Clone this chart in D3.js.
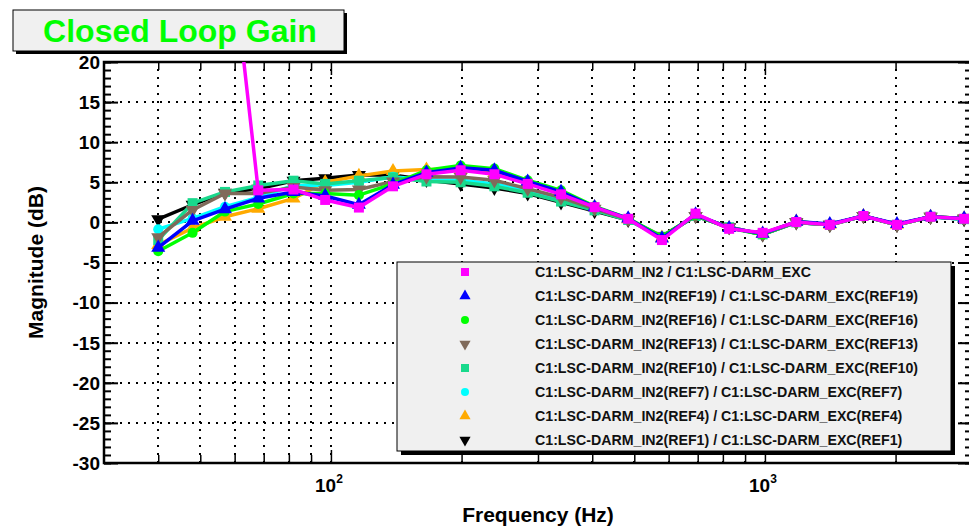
<!DOCTYPE html>
<html><head><meta charset="utf-8">
<script src="https://cdn.jsdelivr.net/npm/d3@7"></script>
<style>
html,body{margin:0;padding:0;background:#fff;}
text{font-family:"Liberation Sans",Arial,Helvetica,sans-serif;font-weight:bold;}
</style></head>
<body><svg id="c" width="969" height="527"></svg>
<script>
// ---- data ----
const freqs = [40, 48, 57, 68, 82, 97, 116, 139, 166, 199, 238, 284, 339, 405, 484, 579, 692, 827, 988, 1181, 1411, 1686, 2015, 2408, 2877];
const magCurrent = [40, 42, 41, 4.0, 4.1, 2.8, 1.85, 4.5, 6.0, 6.5, 6.0, 4.8, 3.5, 1.9, 0.45, -2.2, 1.1, -0.8, -1.3, 0.05, -0.3, 0.8, -0.3, 0.7, 0.45];
const magRef19 = [-3.15, 0.2, 1.65, 3.0, 3.8, 3.3, 2.2, 4.7, 6.2, 6.8, 6.5, 5.1, 3.8, 1.9, 0.5, -2.0, 1.0, -0.7, -1.4, 0.1, -0.2, 0.8, -0.2, 0.7, 0.5];
const magRef16 = [-3.6, -1.3, 1.35, 2.3, 3.6, 3.6, 3.4, 4.8, 6.5, 7.1, 6.7, 5.25, 4.0, 2.0, 0.5, -1.8, 0.9, -0.7, -1.5, 0.1, -0.3, 0.8, -0.3, 0.7, 0.5];
const magRef13 = [-1.85, 1.55, 3.6, 3.6, 4.4, 4.0, 4.1, 5.1, 5.7, 5.65, 5.25, 4.2, 3.1, 1.7, 0.4, -1.7, 0.8, -0.6, -1.5, 0.0, -0.3, 0.8, -0.3, 0.7, 0.5];
const magRef10 = [-2.2, 2.4, 3.8, 4.6, 5.2, 4.8, 5.2, 5.6, 5.1, 5.0, 4.5, 3.7, 2.6, 1.5, 0.3, -1.8, 0.8, -0.6, -1.5, 0.0, -0.3, 0.8, -0.3, 0.7, 0.4];
const magRef7 = [-0.85, 0.5, 1.95, 3.1, 4.6, 4.6, 5.0, 5.7, 5.3, 5.25, 4.8, 3.9, 2.8, 1.6, 0.3, -1.8, 0.8, -0.6, -1.5, 0.0, -0.3, 0.8, -0.3, 0.7, 0.4];
const magRef4 = [-2.8, -0.7, 0.7, 1.7, 3.0, 5.0, 5.8, 6.4, 6.6, 6.6, 6.2, 4.9, 3.7, 1.9, 0.4, -1.9, 0.9, -0.7, -1.4, 0.1, -0.3, 0.8, -0.3, 0.7, 0.5];
const magRef1 = [0.4, 2.2, 3.7, 4.2, 5.2, 5.5, 5.9, 5.9, 5.3, 4.8, 4.3, 3.6, 2.5, 1.4, 0.3, -1.8, 0.8, -0.6, -1.5, 0.0, -0.3, 0.8, -0.3, 0.7, 0.4];
const seriesNames = [
  "C1:LSC-DARM_IN2 / C1:LSC-DARM_EXC",
  "C1:LSC-DARM_IN2(REF19) / C1:LSC-DARM_EXC(REF19)",
  "C1:LSC-DARM_IN2(REF16) / C1:LSC-DARM_EXC(REF16)",
  "C1:LSC-DARM_IN2(REF13) / C1:LSC-DARM_EXC(REF13)",
  "C1:LSC-DARM_IN2(REF10) / C1:LSC-DARM_EXC(REF10)",
  "C1:LSC-DARM_IN2(REF7) / C1:LSC-DARM_EXC(REF7)",
  "C1:LSC-DARM_IN2(REF4) / C1:LSC-DARM_EXC(REF4)",
  "C1:LSC-DARM_IN2(REF1) / C1:LSC-DARM_EXC(REF1)"
];
const seriesValues = [magCurrent, magRef19, magRef16, magRef13, magRef10, magRef7, magRef4, magRef1];
const seriesColors = ["#ff00ff", "#0000ff", "#00ff00", "#806a5a", "#19d98c", "#00ffff", "#ffaa00", "#000000"];
const seriesMarkers = ["square", "triUp", "circle", "triDown", "square", "circle", "triUp", "triDown"];
const yTicks = [20, 15, 10, 5, 0, -5, -10, -15, -20, -25, -30];
const xMajor = [100, 1000];
const xMinor = [40, 50, 60, 70, 80, 90, 200, 300, 400, 500, 600, 700, 800, 900, 2000];
const titleText = "Closed Loop Gain";
const xTitle = "Frequency (Hz)";
const yTitle = "Magnitude (dB)";

// ---- layout ----
const L = 104, R = 972, T = 62, B = 463;
const svg = d3.select("#c");
svg.append("rect").attr("width", 969).attr("height", 527).attr("fill", "#fff");
const x = d3.scaleLog().domain([30, 3000]).range([L, R]);
const y = d3.scaleLinear().domain([-30, 20]).range([B, T]);

svg.append("clipPath").attr("id", "clip").append("rect")
  .attr("x", L).attr("y", T).attr("width", R - L).attr("height", B - T);

// grid
const grid = svg.append("g").attr("stroke", "#000").attr("stroke-width", 2).attr("stroke-dasharray", "2,6");
grid.selectAll(".vg").data(xMinor.concat(xMajor)).enter().append("line")
  .attr("x1", d => Math.round(x(d))).attr("x2", d => Math.round(x(d))).attr("y1", B).attr("y2", T);
grid.selectAll(".hg").data(yTicks.filter(d => d > -30 && d < 20)).enter().append("line")
  .attr("y1", d => Math.round(y(d))).attr("y2", d => Math.round(y(d))).attr("x1", L).attr("x2", R);

// axes with D3 (ticks inside)
const yMinorVals = d3.range(-30, 21, 1);
svg.append("g").attr("transform", `translate(${L},0)`)
  .call(d3.axisRight(y).tickValues(yMinorVals).tickSize(7).tickFormat(""))
  .call(g => g.selectAll("line").attr("stroke-width", 2))
  .call(g => g.select(".domain").remove());
svg.append("g").attr("transform", `translate(${L},0)`)
  .call(d3.axisRight(y).tickValues(yTicks).tickSize(14).tickFormat(""))
  .call(g => g.selectAll("line").attr("stroke-width", 2))
  .call(g => g.select(".domain").remove());
svg.append("g").attr("transform", `translate(${R},0)`)
  .call(d3.axisLeft(y).tickValues(yMinorVals).tickSize(7).tickFormat(""))
  .call(g => g.selectAll("line").attr("stroke-width", 2))
  .call(g => g.select(".domain").remove());
svg.append("g").attr("transform", `translate(${R},0)`)
  .call(d3.axisLeft(y).tickValues(yTicks).tickSize(14).tickFormat(""))
  .call(g => g.selectAll("line").attr("stroke-width", 2))
  .call(g => g.select(".domain").remove());
// y labels
svg.append("g").selectAll("text").data(yTicks).enter().append("text")
  .attr("x", 100).attr("y", d => y(d)).attr("dy", "0.36em").attr("text-anchor", "end")
  .attr("font-size", 19).attr("fill", "#000").text(d => d);

// x ticks
svg.append("g").attr("transform", `translate(0,${B})`)
  .call(d3.axisTop(x).tickValues(xMinor).tickSize(8).tickFormat(""))
  .call(g => g.selectAll("line").attr("stroke-width", 1.5))
  .call(g => g.select(".domain").remove());
svg.append("g").attr("transform", `translate(0,${B})`)
  .call(d3.axisTop(x).tickValues(xMajor).tickSize(13).tickFormat(""))
  .call(g => g.selectAll("line").attr("stroke-width", 1.5))
  .call(g => g.select(".domain").remove());
svg.append("g").attr("transform", `translate(0,${T})`)
  .call(d3.axisBottom(x).tickValues(xMinor).tickSize(8).tickFormat(""))
  .call(g => g.selectAll("line").attr("stroke-width", 1.5))
  .call(g => g.select(".domain").remove());
svg.append("g").attr("transform", `translate(0,${T})`)
  .call(d3.axisBottom(x).tickValues(xMajor).tickSize(13).tickFormat(""))
  .call(g => g.selectAll("line").attr("stroke-width", 1.5))
  .call(g => g.select(".domain").remove());
// x labels
const xl = svg.append("g").selectAll("text").data(xMajor).enter().append("text")
  .attr("x", d => x(d) - 2).attr("y", 492).attr("text-anchor", "middle")
  .attr("font-size", 19).attr("fill", "#000");
xl.append("tspan").text("10");
xl.append("tspan").attr("dy", -9).attr("font-size", 12).text(d => Math.round(Math.log10(d)));

// frame
svg.append("rect").attr("x", L).attr("y", T).attr("width", R - L).attr("height", B - T)
  .attr("fill", "none").attr("stroke", "#000").attr("stroke-width", 2.5);

// titles
svg.append("text").attr("x", (L + R) / 2).attr("y", 522).attr("text-anchor", "middle")
  .attr("font-size", 21).attr("fill", "#000").text(xTitle);
svg.append("text").attr("transform", `translate(43,${(T + B) / 2}) rotate(-90)`)
  .attr("text-anchor", "middle").attr("font-size", 21).attr("fill", "#000").text(yTitle);

// series
const markerPath = (kind, size) => {
  if (kind === "square") return d3.symbol().type(d3.symbolSquare).size(size)();
  if (kind === "circle") return d3.symbol().type(d3.symbolCircle).size(size * 0.8)();
  return d3.symbol().type(d3.symbolTriangle).size(size * 0.85)();
};
const line = d3.line().x((d, i) => x(freqs[i])).y(d => y(d));
const plot = svg.append("g").attr("clip-path", "url(#clip)");
for (let s = seriesValues.length - 1; s >= 0; s--) {
  const vals = seriesValues[s];
  const g = plot.append("g");
  g.append("path").datum(vals).attr("d", line).attr("fill", "none")
    .attr("stroke", seriesColors[s]).attr("stroke-width", 3.5).attr("stroke-linejoin", "round");
  g.selectAll("path.m").data(vals).enter().append("path").attr("class", "m")
    .attr("d", markerPath(seriesMarkers[s], 100))
    .attr("transform", (d, i) => `translate(${x(freqs[i])},${y(d)})` + (seriesMarkers[s] === "triDown" ? " rotate(180)" : ""))
    .attr("fill", seriesColors[s]);
}

// title box
svg.append("rect").attr("x", 16).attr("y", 13).attr("width", 331).attr("height", 41).attr("fill", "#000");
svg.append("rect").attr("x", 13).attr("y", 10).attr("width", 331).attr("height", 41)
  .attr("fill", "#f0f0f0").attr("stroke", "#000").attr("stroke-width", 1);
svg.append("text").attr("x", 180).attr("y", 42).attr("text-anchor", "middle")
  .attr("font-size", 32).attr("fill", "#00ff00").text(titleText);

// legend
const lx = 397, ly = 262, lw = 554, lh = 189;
svg.append("rect").attr("x", lx + 4).attr("y", ly + 4).attr("width", lw).attr("height", lh).attr("fill", "#000");
svg.append("rect").attr("x", lx).attr("y", ly).attr("width", lw).attr("height", lh)
  .attr("fill", "#f0f0f0").attr("stroke", "#000").attr("stroke-width", 1);
const rowY = d3.scalePoint().domain(d3.range(seriesNames.length)).range([272, 440]);
const lg = svg.append("g").selectAll("g").data(seriesNames).enter().append("g")
  .attr("transform", (d, i) => `translate(0,${rowY(i)})`);
lg.append("path").attr("d", (d, i) => markerPath(seriesMarkers[i], 64))
  .attr("transform", (d, i) => `translate(465,0)` + (seriesMarkers[i] === "triDown" ? " rotate(180)" : ""))
  .attr("fill", (d, i) => seriesColors[i]);
lg.append("text").attr("x", 535).attr("dy", "0.36em").attr("font-size", 14.2).attr("fill", "#111").text(d => d);
</script></body></html>
